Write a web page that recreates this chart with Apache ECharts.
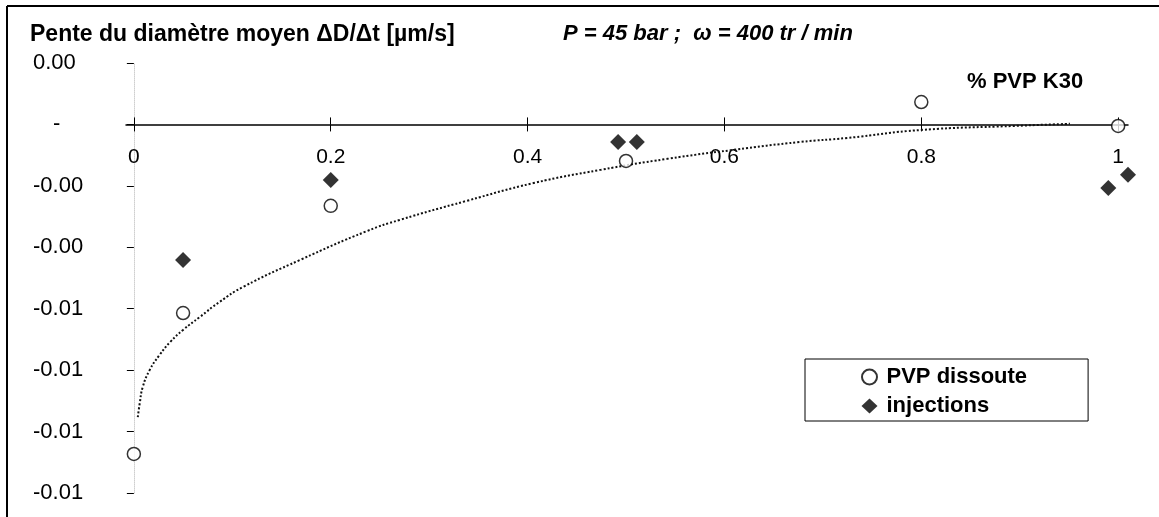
<!DOCTYPE html>
<html>
<head>
<meta charset="utf-8">
<title>Pente du diamètre moyen</title>
<script src="https://cdn.jsdelivr.net/npm/echarts@6.0.0/dist/echarts.min.js"></script>
<style>
  html, body { margin: 0; padding: 0; background: #fff; }
  #main { width: 1159px; height: 517px; }
</style>
</head>
<body>
<div id="main"></div>
<script>
// valeurs
var xTicks = [0, 0.2, 0.4, 0.6, 0.8, 1];
var yMin = -0.012, yMax = 0.002, yStep = 0.002;

var xPvp = [0, 0.05, 0.2, 0.5, 0.8, 1.0];
var yPvp = [-0.01073, -0.00614, -0.00265, -0.00119, 0.00073, -0.00005];

var xInj = [0.05, 0.2, 0.492, 0.511, 0.99, 1.01];
var yInj = [-0.00441, -0.00181, -0.00057, -0.00057, -0.00207, -0.00164];

// courbe de tendance (pointillés)
var xTrend = [0.004, 0.006, 0.009, 0.016, 0.026, 0.037, 0.05, 0.067, 0.087, 0.111, 0.169, 0.237, 0.27, 0.338, 0.406, 0.474, 0.542, 0.609, 0.677, 0.725, 0.8, 0.893, 0.951];
var yTrend = [-0.00953, -0.00907, -0.00855, -0.008, -0.00751, -0.00708, -0.00669, -0.00627, -0.00578, -0.00529, -0.00441, -0.00347, -0.00311, -0.00249, -0.00191, -0.00148, -0.00112, -0.00083, -0.00057, -0.00044, -0.00018, -0.00005, 0.00002];

function pairs(xs, ys) {
  var out = [];
  for (var i = 0; i < xs.length; i++) {
    out.push([xs[i], ys[i]]);
  }
  return out;
}

var font = 'Liberation Sans, Arial, sans-serif';

// l'axe des x passe par y = 0 : on le decale depuis le bord du graphe
var gridTop = 63, gridBottom = 24, H = 517;
var gridH = H - gridTop - gridBottom;
var zeroY = gridTop + gridH * (yMax - 0) / (yMax - yMin);

var chart = echarts.init(document.getElementById('main'), null, { renderer: 'canvas' });

var option = {
  backgroundColor: '#fff',
  animation: false,
  textStyle: { fontFamily: font },
  title: [{
    text: 'Pente du diamètre moyen ΔD/Δt [µm/s]',
    left: 30, top: 23, padding: 0,
    textStyle: { fontSize: 23, fontWeight: 'bold', color: '#000', fontFamily: font }
  }, {
    text: 'P = 45 bar ;  ω = 400 tr / min',
    left: 563, top: 23, padding: 0,
    textStyle: { fontSize: 22, fontWeight: 'bold', fontStyle: 'italic', color: '#000', fontFamily: font }
  }, {
    text: '% PVP K30',
    left: 967, top: 71, padding: 0,
    textStyle: { fontSize: 22, fontWeight: 'bold', color: '#000', fontFamily: font }
  }],
  legend: {
    data: ['PVP dissoute', 'injections'],
    orient: 'vertical',
    left: 805, top: 359,
    padding: [7, 61, 4, 56],
    itemWidth: 16, itemHeight: 15, itemGap: 7,
    backgroundColor: '#fff',
    borderColor: '#000', borderWidth: 1,
    textStyle: { fontSize: 22, fontWeight: 'bold', color: '#000', fontFamily: font, padding: [0, 0, 0, 4] }
  },
  grid: {
    left: 126, right: 31, top: gridTop, bottom: gridBottom,
    containLabel: false,
    outerBoundsMode: 'none'
  },
  xAxis: [{
    type: 'value',
    min: -0.008, max: 1.01,
    position: 'bottom',
    offset: zeroY - (gridTop + gridH),
    axisLine: { onZero: false, lineStyle: { color: '#000', width: 1.5 } },
    axisTick: { show: true, customValues: xTicks, length: 7, lineStyle: { color: '#000' } },
    axisLabel: { customValues: xTicks, margin: 22, fontSize: 21, color: '#000', fontFamily: font },
    splitLine: { show: false }
  }, {
    // demi-graduations vers le haut
    type: 'value',
    min: -0.008, max: 1.01,
    position: 'top',
    offset: gridTop - zeroY,
    axisLine: { onZero: false, lineStyle: { opacity: 0 } },
    axisTick: { show: true, customValues: xTicks, length: 7, lineStyle: { color: '#000' } },
    axisLabel: { show: false },
    splitLine: { show: false }
  }],
  yAxis: {
    type: 'value',
    min: yMin, max: yMax, interval: yStep,
    axisLine: { onZero: true, lineStyle: { color: '#cfcfcf', type: 'dotted' } },
    axisTick: { show: true, length: 7, lineStyle: { color: '#000' } },
    axisLabel: {
      margin: 93, align: 'left', fontSize: 22, color: '#000', fontFamily: font,
      formatter: function(v) {
        if (Math.abs(v) < 1e-9) return '{z|-}';
        return v.toFixed(2);
      },
      rich: { z: { fontSize: 22, padding: [0, 0, 0, 20], color: '#000' } }
    },
    splitLine: { show: false }
  },
  series: [{
    name: 'tendance',
    type: 'line',
    smooth: true,
    showSymbol: false,
    silent: true,
    lineStyle: { type: 'dotted', width: 2, color: '#111' },
    data: pairs(xTrend, yTrend),
    z: 1
  }, {
    name: 'PVP dissoute',
    type: 'scatter',
    symbol: 'circle',
    symbolSize: 13,
    clip: false,
    itemStyle: { color: '#fff', borderColor: '#000', borderWidth: 1.5 },
    data: pairs(xPvp, yPvp),
    z: 3
  }, {
    name: 'injections',
    type: 'scatter',
    symbol: 'diamond',
    symbolSize: 16,
    clip: false,
    itemStyle: { color: '#000' },
    data: pairs(xInj, yInj),
    z: 3
  }],
  graphic: [{
    type: 'line',
    shape: { x1: 7, y1: 6, x2: 1159, y2: 6 },
    style: { stroke: '#000', lineWidth: 2 }
  }, {
    type: 'line',
    shape: { x1: 7, y1: 6, x2: 7, y2: 517 },
    style: { stroke: '#000', lineWidth: 2 }
  }]
};

chart.setOption(option);
</script>
</body>
</html>
